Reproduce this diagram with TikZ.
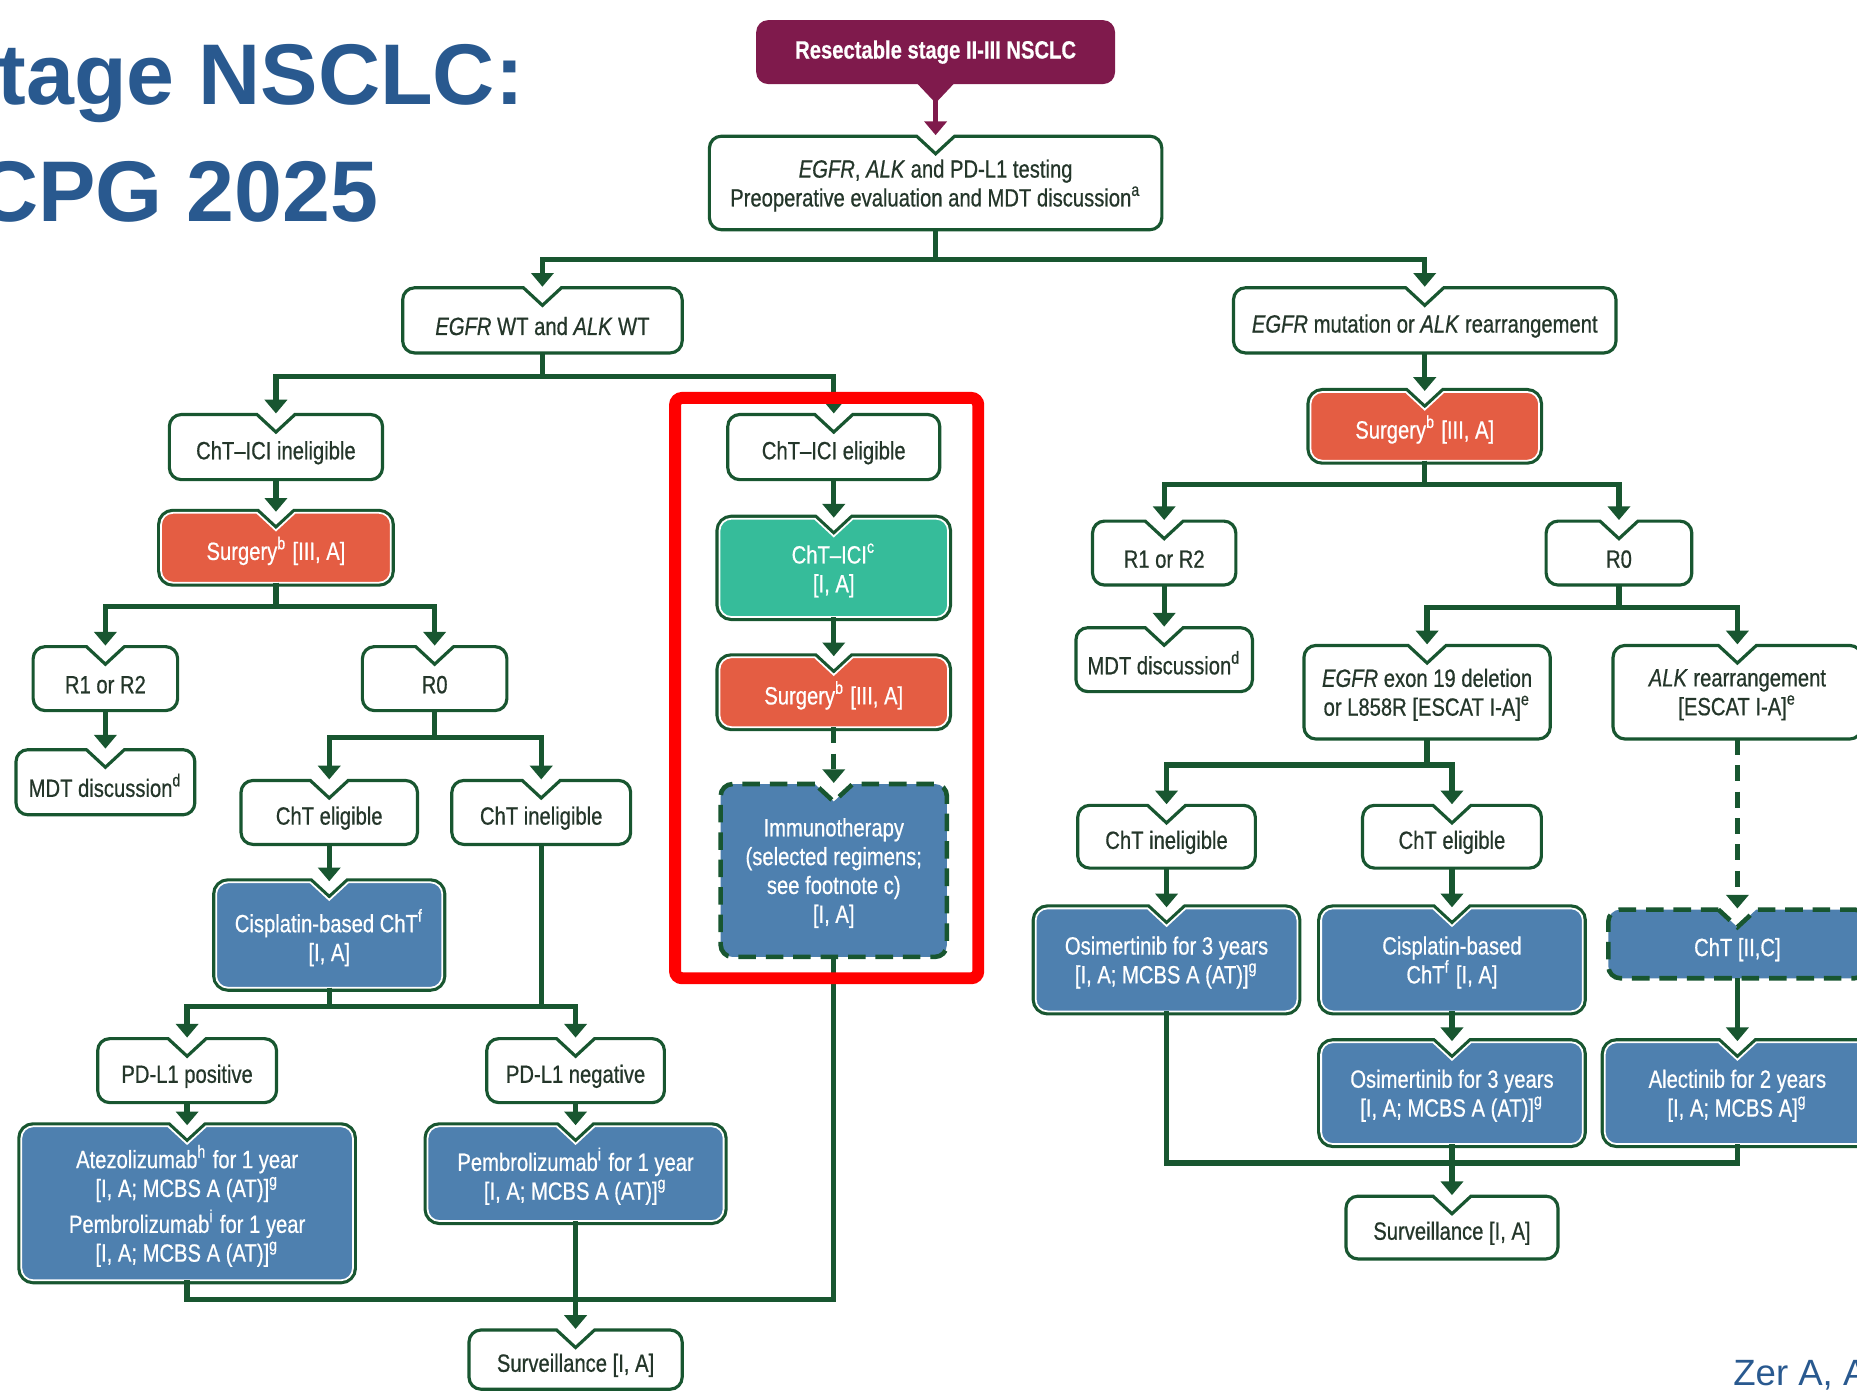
\documentclass[tikz,border=0pt]{standalone}
\usepackage{fontspec}
\setmainfont{Liberation Sans}
\newfontfamily\boxfont[FakeStretch=0.81, FakeBold=0.6]{Liberation Sans}
\usetikzlibrary{calc, arrows.meta}

\definecolor{dkgreen}{RGB}{24,86,48}
\definecolor{plum}{RGB}{127,26,76}
\definecolor{surgred}{RGB}{228,93,67}
\definecolor{icigreen}{RGB}{54,188,154}
\definecolor{steel}{RGB}{78,128,175}
\definecolor{ink}{RGB}{36,54,42}
\definecolor{titleblue}{RGB}{41,89,143}

\newcommand{\bxf}{\boxfont\fontsize{7.1}{8.2}\selectfont}

\newcommand{\notchbox}[2]{%
    \draw[#1] ($(#2.north)+(-5.4pt,0pt)$) -- ($(#2.north west)+(3.4pt,0pt)$)
        arc[start angle=90, end angle=180, radius=3.4pt] -- ($(#2.south west)+(0pt,3.4pt)$)
        arc[start angle=180, end angle=270, radius=3.4pt] -- ($(#2.south east)+(-3.4pt,0pt)$)
        arc[start angle=270, end angle=360, radius=3.4pt] -- ($(#2.north east)+(0pt,-3.4pt)$)
        arc[start angle=0, end angle=90, radius=3.4pt] -- ($(#2.north)+(5.4pt,0pt)$)
        -- ($(#2.north)+(0pt,-5pt)$) -- cycle;}

\pgfdeclarelayer{background}
\pgfsetlayers{background,main}

\tikzset{
    flow/.style={rectangle, inner sep=1pt, outer sep=0pt, align=center, font=\bxf, text=ink, text height=8.4pt},
    cflow/.style={flow, text=white},
    multi/.style={text height=, text depth=-1.9pt},
    dims/.style 2 args={minimum width=#1*0.011843cm, minimum height=#2*0.011843cm},
    wfill/.style={fill=white, draw=dkgreen, line width=0.9pt},
    cfill/.style={fill=#1, draw=white, line width=0.5pt, preaction={draw=dkgreen, line width=2.3pt}},
    dfill/.style={fill=steel, draw=dkgreen, line width=1.3pt, dash pattern=on 5pt off 2.8pt,
        preaction={draw=white, solid, line width=1.3pt}},
    link/.style={draw=dkgreen, line width=1.5pt},
    arr/.style={link, -{Triangle[width=6.3pt, length=3.9pt]}, shorten >=0.3pt},
    darr/.style={arr, dash pattern=on 4.5pt off 3pt},
    redframe/.style={draw=red, line width=3.4pt, rounded corners=2pt},
    heading/.style={inner sep=0pt, anchor=base east, text=titleblue,
        font=\fontsize{24.5}{28}\selectfont\bfseries}
}

\begin{document}
\begin{tikzpicture}[x=0.011843cm, y=-0.011843cm]
    \useasboundingbox (0,0) rectangle (1568,1174);
    \clip (0,0) rectangle (1568,1174);

    \node[heading] (head1) at (443,88) {tage NSCLC:};
    \node[heading] (head2) at (320,187) {CPG 2025};
    \node[inner sep=0pt, anchor=base west, text=titleblue, font=\fontsize{10.4}{12}\selectfont] (cite) at (1463,1170) {Zer A, A};

    \node[flow, dims={303}{54}, fill=plum, rounded corners=3.4pt, text=white, text height=, font=\bxf\bfseries] (start) at (790,44) {Resectable stage II-III NSCLC};
    \node[flow, multi, dims={382}{79}] (test) at (790,154.5) {\textit{EGFR}, \textit{ALK} and PD-L1 testing\\Preoperative evaluation and MDT discussion\textsuperscript{a}};

    \node[flow, dims={236}{55}] (wt) at (458,270.5) {\textit{EGFR} WT and \textit{ALK} WT};
    \node[flow, dims={323}{55}] (mut) at (1203,270.5) {\textit{EGFR} mutation or \textit{ALK} rearrangement};

    \node[flow, dims={180}{55}] (ineligL) at (233,377.5) {ChT–ICI ineligible};
    \node[cflow, dims={194}{59}] (surgL) at (233,462.5) {Surgery\textsuperscript{b} [III, A]};
    \node[flow, dims={122}{54}] (r12L) at (89,573) {R1 or R2};
    \node[flow, dims={151}{55}] (mdtL) at (89,660.5) {MDT discussion\textsuperscript{d}};
    \node[flow, dims={122}{54}] (r0L) at (367,573) {R0};
    \node[flow, dims={149}{54}] (chteL) at (278,686) {ChT eligible};
    \node[flow, dims={151}{54}] (chtiL) at (457,686) {ChT ineligible};
    \node[cflow, multi, dims={191}{89}] (cispL) at (278,789.5) {Cisplatin-based ChT\textsuperscript{f}\\{}[I, A]};
    \node[flow, dims={151}{54}] (posL) at (158,904) {PD-L1 positive};
    \node[flow, dims={150}{54}] (negL) at (486,904) {PD-L1 negative};
    \node[cflow, multi, dims={280}{130}] (atezo) at (158,1016) {Atezolizumab\textsuperscript{h} for 1 year\\{}[I, A; MCBS A (AT)]\textsuperscript{g}\\[2pt]Pembrolizumab\textsuperscript{i} for 1 year\\{}[I, A; MCBS A (AT)]\textsuperscript{g}};
    \node[cflow, multi, dims={250}{80}] (pembro) at (486,991) {Pembrolizumab\textsuperscript{i} for 1 year\\{}[I, A; MCBS A (AT)]\textsuperscript{g}};
    \node[flow, dims={180}{50}] (survL) at (486,1148) {Surveillance [I, A]};

    \node[flow, dims={179}{55}] (eligM) at (704,377.5) {ChT–ICI eligible};
    \node[cflow, multi, dims={193}{83}] (chticiM) at (704,479.5) {ChT–ICI\textsuperscript{c}\\{}[I, A]};
    \node[cflow, dims={193}{59}] (surgM) at (704,584.5) {Surgery\textsuperscript{b} [III, A]};
    \node[cflow, multi, dims={191}{146}] (immuno) at (704,735) {Immunotherapy\\(selected regimens;\\see footnote c)\\{}[I, A]};

    \node[cflow, dims={193}{58}] (surgR) at (1203,360) {Surgery\textsuperscript{b} [III, A]};
    \node[flow, dims={121}{54}] (r12R) at (983,467) {R1 or R2};
    \node[flow, dims={149}{54}] (mdtR) at (983,557) {MDT discussion\textsuperscript{d}};
    \node[flow, dims={123}{54}] (r0R) at (1367,467) {R0};
    \node[flow, multi, dims={208}{79}] (exon) at (1205,584.5) {\textit{EGFR} exon 19 deletion\\or L858R [ESCAT I-A]\textsuperscript{e}};
    \node[flow, multi, dims={210}{79}] (alk) at (1467,584.5) {\textit{ALK} rearrangement\\{}[ESCAT I-A]\textsuperscript{e}};
    \node[flow, dims={150}{53}] (chtiR) at (985,706.5) {ChT ineligible};
    \node[flow, dims={151}{53}] (chteR) at (1226,706.5) {ChT eligible};
    \node[cflow, multi, dims={221}{87}] (osiR1) at (985,810.5) {Osimertinib for 3 years\\{}[I, A; MCBS A (AT)]\textsuperscript{g}};
    \node[cflow, multi, dims={221}{87}] (cispR) at (1226,810.5) {Cisplatin-based\\ChT\textsuperscript{f} [I, A]};
    \node[cflow, dims={218}{58}] (chtR) at (1467,797) {ChT [II,C]};
    \node[cflow, multi, dims={221}{86}] (osiR2) at (1226,923) {Osimertinib for 3 years\\{}[I, A; MCBS A (AT)]\textsuperscript{g}};
    \node[cflow, multi, dims={224}{86}] (alec) at (1467,923) {Alectinib for 2 years\\{}[I, A; MCBS A]\textsuperscript{g}};
    \node[flow, dims={179}{53}] (survR) at (1226,1036.5) {Surveillance [I, A]};

    \begin{pgfonlayer}{background}
        \foreach \n in {test, wt, mut, ineligL, r12L, mdtL, r0L, chteL, chtiL, posL, negL, survL,
                        eligM, r12R, mdtR, r0R, exon, alk, chtiR, chteR, survR}
            {\notchbox{wfill}{\n}}
        \foreach \n in {surgL, surgM, surgR}
            {\notchbox{cfill=surgred}{\n}}
        \foreach \n in {cispL, atezo, pembro, osiR1, cispR, osiR2, alec}
            {\notchbox{cfill=steel}{\n}}
        \notchbox{cfill=icigreen}{chticiM}
        \foreach \n in {immuno, chtR}
            {\notchbox{dfill}{\n}}
        \fill[plum] ($(start.south)+(-17,-2)$) -- ($(start.south)+(17,-2)$) -- ($(start.south)+(0,16)$) -- cycle;
    \end{pgfonlayer}

    \draw[arr, draw=plum] ($(start.south)+(0,12)$) -- (test.north);
    \draw[arr] (test.south) -- ++(0,25) -| (wt.north);
    \draw[arr] (test.south) -- ++(0,25) -| (mut.north);

    \draw[arr] (wt.south) -- ++(0,20) -| (ineligL.north);
    \draw[arr] (wt.south) -- ++(0,20) -| (eligM.north);
    \draw[arr] (ineligL.south) -- (surgL.north);
    \draw[arr] (surgL.south) -- ++(0,20) -| (r12L.north);
    \draw[arr] (surgL.south) -- ++(0,20) -| (r0L.north);
    \draw[arr] (r12L.south) -- (mdtL.north);
    \draw[arr] (r0L.south) -- ++(0,23) -| (chteL.north);
    \draw[arr] (r0L.south) -- ++(0,23) -| (chtiL.north);
    \draw[arr] (chteL.south) -- (cispL.north);
    \coordinate (barL) at ($(cispL.south)+(0,16)$);
    \draw[arr] (cispL.south) -- (barL) -| (posL.north);
    \draw[arr] (cispL.south) -- (barL) -| (negL.north);
    \draw[link] (chtiL.south) -- (chtiL.south |- barL);
    \draw[arr] (posL.south) -- (atezo.north);
    \draw[arr] (negL.south) -- (pembro.north);
    \draw[arr] (pembro.south) -- (survL.north);
    \draw[link] (atezo.south) -- ++(0,16) -| (immuno.south);

    \draw[arr] (eligM.south) -- (chticiM.north);
    \draw[arr] (chticiM.south) -- (surgM.north);
    \draw[darr] (surgM.south) -- (immuno.north);

    \draw[arr] (mut.south) -- (surgR.north);
    \draw[arr] (surgR.south) -- ++(0,20) -| (r12R.north);
    \draw[arr] (surgR.south) -- ++(0,20) -| (r0R.north);
    \draw[arr] (r12R.south) -- (mdtR.north);
    \draw[arr] (r0R.south) -- ++(0,19) -| (exon.north);
    \draw[arr] (r0R.south) -- ++(0,19) -| (alk.north);
    \draw[darr] (alk.south) -- (chtR.north);
    \draw[arr] (exon.south) -- ++(0,22) -| (chtiR.north);
    \draw[arr] (exon.south) -- ++(0,22) -| (chteR.north);
    \draw[arr] (chtiR.south) -- (osiR1.north);
    \draw[arr] (chteR.south) -- (cispR.north);
    \draw[arr] (cispR.south) -- (osiR2.north);
    \draw[arr] (chtR.south) -- (alec.north);
    \draw[arr] (osiR2.south) -- (survR.north);
    \coordinate (barR) at ($(osiR2.south)+(0,16)$);
    \draw[link] (osiR1.south) |- (barR) -| (alec.south);

    \draw[redframe] (570,336) rectangle (826,826);
\end{tikzpicture}
\end{document}
